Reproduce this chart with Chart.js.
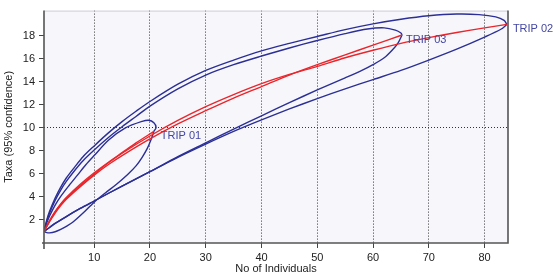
<!DOCTYPE html>
<html>
<head>
<meta charset="utf-8">
<script src="https://cdn.jsdelivr.net/npm/chart.js@4"></script>
<style>
  html, body { margin: 0; padding: 0; background: #fff; }
  #wrap { width: 553px; height: 280px; }
</style>
</head>
<body>
<div id="wrap"><canvas id="rareChart" width="553" height="280"></canvas></div>
<script>
// 刻度
const xTicks = [10, 20, 30, 40, 50, 60, 70, 80];
const yTicks = [2, 4, 6, 8, 10, 12, 14, 16, 18];

// TRIP 01 (mean / upper / lower)
const trip01Mean = [[1,1],[2,1.95],[3,2.75],[4,3.4],[5,3.95],[7.5,5.1],[10,6.1],[12.5,7.0],[15,7.85],[17.5,8.7],[20.7,9.7]];
const trip01Upper = [[1,1],[1.5,1.75],[2,2.35],[3,3.3],[4,4.05],[5.5,5.0],[7,5.9],[8.5,6.8],[10,7.6],[12.6,8.95],[15.6,10.0],[18.6,10.57],[19.8,10.67],[20.7,10.45],[21.1,10.05],[20.7,9.7]];
const trip01Lower = [[1,1],[1.5,0.9],[2,0.88],[3,0.98],[4,1.18],[5,1.45],[6.2,1.82],[8,2.6],[10,3.55],[12,4.35],[14,5.1],[16,5.95],[17.5,6.7],[18.6,7.45],[19.5,8.2],[20.2,9.0],[20.7,9.7]];

// TRIP 02
const trip02Mean = [[1,1],[2,1.9],[3,2.7],[4,3.35],[5,3.9],[7.5,5.0],[10,6.0],[12.5,6.95],[15,7.8],[20,9.3],[25,10.65],[30,11.85],[35,12.9],[40,13.85],[45,14.65],[50,15.35],[55,16.1],[60,16.75],[65,17.35],[70,17.85],[75,18.3],[80,18.7],[84,19]];
const trip02Upper = [[1,1],[1.5,2.0],[2,2.75],[3,3.9],[4,4.85],[5,5.65],[6.5,6.6],[8,7.5],[10,8.44],[12.5,9.55],[15,10.55],[17.5,11.45],[20,12.3],[25,13.8],[30,15.0],[35,15.9],[40,16.7],[45,17.35],[50,17.95],[55,18.55],[60,19.05],[65,19.45],[70,19.75],[75,19.9],[79,19.85],[82,19.65],[83.5,19.35],[84,19]];
const trip02Lower = [[1,1],[2,1.35],[3,1.7],[5,2.3],[7.5,3.0],[10,3.65],[15,4.95],[20,6.2],[25,7.45],[30,8.6],[35,9.7],[40,10.7],[45,11.65],[50,12.55],[55,13.4],[60,14.2],[65,15.0],[70,15.9],[75,16.85],[80,17.9],[83,18.6],[84,19]];

// TRIP 03
const trip03Mean = [[1,1],[2,1.85],[3,2.6],[4,3.25],[5,3.8],[7.5,4.9],[10,5.9],[12.5,6.8],[15,7.6],[20,9.05],[25,10.35],[30,11.5],[35,12.6],[40,13.6],[45,14.6],[50,15.5],[55,16.35],[60,17.2],[65.2,18.08]];
const trip03Upper = [[1,1],[1.5,1.9],[2,2.6],[3,3.7],[4,4.6],[5,5.35],[6.5,6.3],[8,7.15],[10,8.08],[12.5,9.15],[15,10.1],[17.5,11.0],[20,11.9],[25,13.4],[30,14.6],[35,15.5],[40,16.25],[45,16.95],[50,17.6],[55,18.2],[59,18.6],[62,18.7],[64,18.5],[65,18.25],[65.2,18.08]];
const trip03Lower = [[1,1],[2,1.35],[3,1.7],[5,2.3],[7.5,3.0],[10,3.65],[15,4.95],[20,6.2],[25,7.5],[30,8.7],[35,9.9],[40,11.05],[45,12.2],[50,13.3],[55,14.35],[58,15.0],[60,15.5],[62,16.1],[63.5,16.8],[64.5,17.4],[65.2,18.08]];

const tripNames = ['TRIP 01', 'TRIP 02', 'TRIP 03'];
const tripMeans = [trip01Mean, trip02Mean, trip03Mean];
const tripUppers = [trip01Upper, trip02Upper, trip03Upper];
const tripLowers = [trip01Lower, trip02Lower, trip03Lower];
// 標籤位移 (px)
const labelOffsets = [[7, 5], [6, 5], [4, 5]];

const blue = '#2b2f96';
const red = '#e8262c';

const toPts = arr => arr.map(p => ({ x: p[0], y: p[1] }));

const datasets = [];
tripNames.forEach((name, i) => {
    datasets.push({ label: name + ' mean', data: toPts(tripMeans[i]), borderColor: red, borderWidth: 1.4, order: 0 });
    datasets.push({ label: name + ' upper', data: toPts(tripUppers[i]), borderColor: blue, borderWidth: 1.4, order: 1 });
    datasets.push({ label: name + ' lower', data: toPts(tripLowers[i]), borderColor: blue, borderWidth: 1.4, order: 1 });
});

// 背景、框線、標籤
const framePlugin = {
    id: 'frame',
    beforeDraw(chart) {
        const a = chart.chartArea, c = chart.ctx;
        c.save();
        c.fillStyle = '#f6f6fb';
        c.fillRect(a.left, a.top, a.right - a.left, a.bottom - a.top);
        c.restore();
    },
    afterDraw(chart) {
        const a = chart.chartArea, c = chart.ctx;
        c.save();
        c.strokeStyle = '#cfcfd8';
        c.lineWidth = 1;
        c.beginPath();
        c.moveTo(a.left, a.top + 0.5);
        c.lineTo(a.right, a.top + 0.5);
        c.stroke();
        c.strokeStyle = '#555';
        c.lineWidth = 1.6;
        c.beginPath();
        c.moveTo(a.left, a.top);
        c.lineTo(a.left, a.bottom + 6);
        c.moveTo(a.left - 2, a.bottom);
        c.lineTo(a.right, a.bottom);
        c.lineTo(a.right, a.top);
        c.stroke();
        // 標籤
        const xs = chart.scales.x, ys = chart.scales.y;
        c.fillStyle = '#4347a3';
        c.font = '11px "Liberation Sans", Arial, sans-serif';
        c.textBaseline = 'middle';
        tripNames.forEach((name, i) => {
            const end = tripMeans[i][tripMeans[i].length - 1];
            c.fillText(name, xs.getPixelForValue(end[0]) + labelOffsets[i][0], ys.getPixelForValue(end[1]) + labelOffsets[i][1]);
        });
        c.restore();
    }
};

const tickFont = { family: '"Liberation Sans", Arial, sans-serif', size: 11 };

new Chart(document.getElementById('rareChart').getContext('2d'), {
    type: 'scatter',
    data: { datasets },
    options: {
        responsive: false,
        animation: false,
        showLine: true,
        elements: { point: { radius: 0 }, line: { tension: 0.3, fill: false } },
        layout: { padding: { top: 1, right: 45, left: 0, bottom: 0 } },
        plugins: { legend: { display: false }, tooltip: { enabled: false } },
        scales: {
            x: {
                type: 'linear',
                min: 1,
                max: 84.2,
                afterBuildTicks: s => { s.ticks = xTicks.map(v => ({ value: v })); },
                afterFit: s => { s.height = 37; },
                grid: { color: '#333', lineWidth: 1, tickLength: 5, tickColor: '#444' },
                border: { display: false, dash: [1, 2] },
                ticks: { color: '#222', font: tickFont, padding: 3, maxRotation: 0 },
                title: { display: true, text: 'No of Individuals', color: '#222', font: tickFont, padding: { top: 0, bottom: 4 } }
            },
            y: {
                type: 'linear',
                min: 0,
                max: 20.2,
                afterBuildTicks: s => { s.ticks = yTicks.map(v => ({ value: v })); },
                afterFit: s => { s.width = 44; },
                grid: {
                    color: ctx => (ctx.tick && ctx.tick.value === 10) ? '#333' : 'rgba(0,0,0,0)',
                    lineWidth: 1, tickLength: 5, tickColor: '#444'
                },
                border: { display: false, dash: [1, 2] },
                ticks: { color: '#222', font: tickFont, padding: 4 },
                title: { display: true, text: 'Taxa (95% confidence)', color: '#222', font: tickFont, padding: { top: 2, bottom: 0 } }
            }
        }
    },
    plugins: [framePlugin]
});
</script>
</body>
</html>
